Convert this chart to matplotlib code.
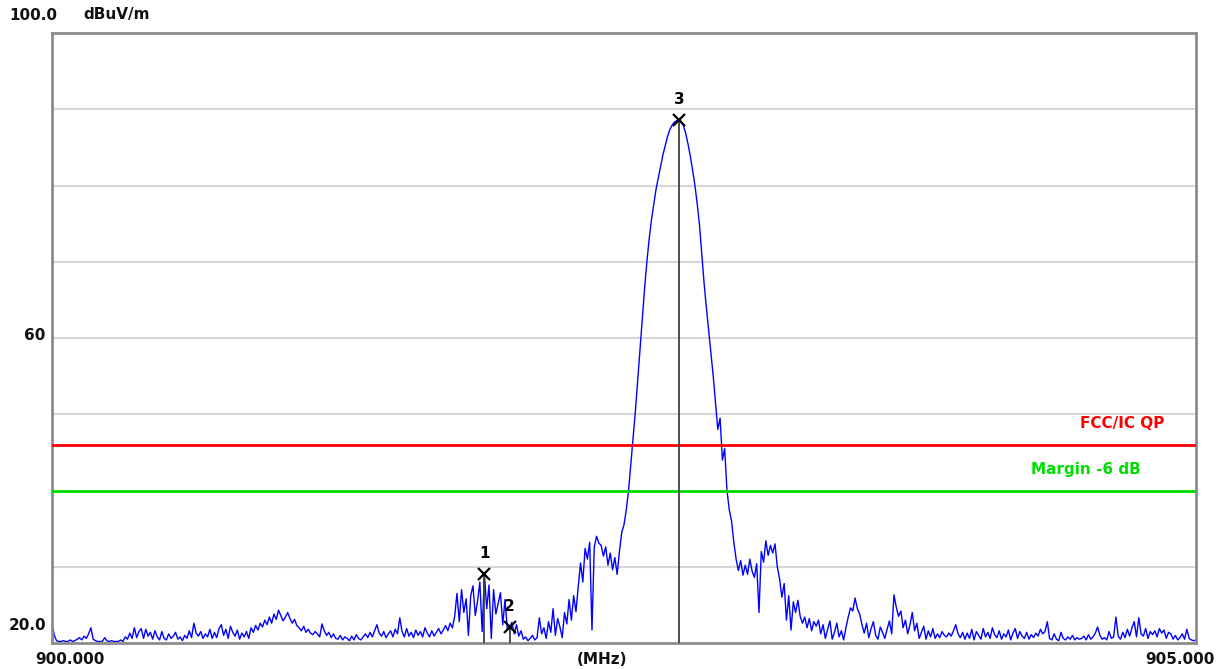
import numpy as np
from matplotlib import pyplot as plt

# sweep settings (MHz)
start_mhz = 900.0
stop_mhz = 905.0
step_mhz = 0.01

# measured field strength, one value per 0.01 MHz, each row = 0.25 MHz
level_dbuv = [
    22.6, 21.0, 20.3, 20.2, 20.2, 20.3, 20.2, 20.2, 20.4, 20.2, 20.3, 20.5, 20.7, 20.4, 20.9, 20.6, 21.2, 22.0, 20.5, 20.3, 20.2, 20.2, 20.2, 20.7, 20.3,
    20.2, 20.3, 20.2, 20.2, 20.2, 20.4, 20.2, 20.8, 20.5, 21.3, 20.6, 22.0, 20.7, 21.5, 21.9, 20.6, 21.8, 20.9, 21.4, 20.5, 21.6, 20.8, 20.4, 21.5, 20.6,
    20.4, 21.2, 20.6, 20.9, 21.4, 20.5, 20.8, 20.3, 21.0, 20.6, 21.6, 20.7, 22.6, 21.3, 20.9, 21.5, 20.6, 21.2, 20.8, 21.8, 20.6, 21.4, 20.7, 21.9, 22.4,
    21.0, 21.8, 20.6, 22.2, 21.4, 20.9, 21.7, 20.5, 21.3, 20.8, 21.5, 20.6, 22.0, 21.4, 22.3, 21.7, 22.6, 22.1, 23.0, 22.4, 23.4, 22.6, 23.8, 23.1, 24.3,
    23.6, 22.9, 23.4, 24.0, 23.2, 22.6, 23.1, 22.3, 22.0, 21.6, 22.2, 21.4, 21.8, 21.3, 21.1, 21.5, 21.2, 20.8, 22.5, 21.6, 21.0, 21.4, 20.7, 21.2, 20.6,
    20.5, 21.0, 20.4, 20.8, 20.6, 20.3, 20.9, 20.4, 21.1, 20.6, 20.4, 20.8, 21.2, 20.7, 21.4, 20.8, 21.6, 22.4, 21.3, 20.9, 21.5, 20.7, 21.2, 21.6, 20.8,
    21.8, 21.2, 23.3, 21.5, 20.8, 21.9, 20.9, 21.4, 20.7, 21.7, 21.0, 21.5, 20.8, 22.0, 21.3, 20.8, 21.6, 20.9, 21.4, 21.9, 21.2, 21.7, 22.3, 21.6, 22.6,
    22.0, 23.5, 26.5, 22.8, 27.0, 24.0, 25.8, 21.0, 26.2, 27.5, 23.6, 25.5, 28.0, 21.5, 29.0, 24.5, 27.6, 20.6, 27.0, 23.8, 25.2, 26.6, 22.4, 25.7, 21.8,
    22.1, 22.7, 21.2, 22.4, 20.9, 21.6, 20.5, 20.8, 20.3, 20.6, 21.0, 20.4, 20.7, 23.3, 21.2, 22.0, 20.6, 22.8, 21.4, 24.5, 21.0, 23.2, 22.1, 20.7, 24.0,
    22.5, 25.7, 23.0, 26.2, 24.1, 27.4, 30.5, 28.0, 32.4, 31.0, 33.2, 21.7, 32.6, 34.0, 33.1, 32.8, 31.4, 32.6, 30.2, 31.8, 29.6, 31.2, 29.0, 32.0, 34.5,
    35.5, 37.5, 40.0, 43.5, 47.0, 50.5, 54.5, 58.5, 62.5, 66.5, 70.0, 73.0, 75.5, 77.5, 79.5, 81.0, 82.5, 84.0, 85.2, 86.4, 87.3, 87.9, 88.3, 88.5, 88.6,
    88.4, 87.8, 86.8, 85.4, 83.8, 82.0, 80.0, 77.6, 74.8, 71.0, 67.2, 64.0, 61.0, 58.0, 55.0, 51.5, 48.0, 49.5, 44.0, 45.5, 40.0, 37.5, 36.0, 33.2, 31.0,
    29.5, 30.8, 28.9, 30.2, 29.0, 31.0, 29.4, 28.6, 30.4, 24.0, 32.0, 30.6, 33.4, 31.5, 32.8, 31.8, 33.0, 30.0, 28.4, 26.0, 27.8, 23.0, 26.2, 21.7, 25.4,
    24.0, 25.6, 23.5, 22.6, 23.4, 22.0, 23.2, 21.6, 22.8, 22.2, 23.0, 21.2, 22.4, 20.6, 21.8, 22.9, 20.5, 21.4, 22.6, 20.8, 21.6, 20.4, 22.0, 23.4, 24.6,
    24.2, 25.9, 24.5, 23.8, 22.4, 21.3, 22.6, 20.7, 21.9, 22.8, 21.0, 20.5, 22.1, 21.4, 20.6, 21.8, 22.9, 21.2, 26.3, 24.7, 23.5, 24.2, 22.0, 23.0, 21.2,
    22.4, 24.0, 21.6, 22.6, 20.6, 21.4, 22.2, 20.5, 21.6, 20.8, 21.9, 20.6, 21.2, 20.7, 21.5, 21.0, 20.8, 21.3, 20.9, 21.6, 22.4, 21.2, 20.7, 21.4, 20.5,
    21.3, 20.6, 21.8, 20.4, 21.5, 21.0, 20.5, 21.9, 20.8, 21.4, 20.6, 22.0, 21.1, 20.7, 21.6, 20.5, 21.2, 20.8, 21.7, 20.4, 21.3, 21.9, 20.6, 21.5, 20.9,
    20.6, 21.4, 20.5, 21.1, 20.7, 21.3, 20.9, 21.8, 21.2, 21.5, 22.8, 20.6, 20.4, 21.2, 20.5, 20.3, 21.4, 20.6, 20.4, 20.8, 20.5, 21.0, 20.4, 20.7, 20.5,
    20.6, 20.9, 20.4, 21.1, 20.5, 20.8, 21.3, 22.1, 21.0, 20.5, 20.7, 20.4, 21.5, 20.6, 20.8, 23.4, 20.9, 20.5, 21.4, 20.7, 21.8, 20.9, 22.0, 22.8, 20.8,
    23.3, 21.2, 20.9, 21.9, 20.6, 21.5, 21.1, 21.6, 20.8, 21.9, 21.3, 21.7, 20.6, 21.4, 21.2, 20.5, 21.0, 20.4, 20.7, 21.2, 20.5, 21.8, 20.6, 20.4, 20.3,
    20.4,
]

limit_qp = 46.0      # FCC/IC QP limit, dBuV/m
margin_db = -6.0

marker_freqs = [901.89, 902.00, 902.74]
marker_names = ['1', '2', '3']

freq = start_mhz + step_mhz * np.arange(len(level_dbuv))
level = np.array(level_dbuv)
marker_idx = [int(round((f - start_mhz) / step_mhz)) for f in marker_freqs]
marker_levels = level[marker_idx]

W, H = 1222, 669
fig = plt.figure(figsize=(W / 100, H / 100), dpi=100)
ax = fig.add_axes([52 / W, 26 / H, 1144 / W, 610 / H])
ax.set_xlim(start_mhz, stop_mhz)
ax.set_ylim(20, 100)
ax.set_xticks([])
ax.set_yticks([])
for s in ax.spines.values():
    s.set_color('#8c8c8c')
    s.set_linewidth(2)

for y in range(30, 100, 10):
    ax.axhline(y, color='#d6d6d6', lw=1.5, zorder=0)

ax.plot(freq, level, color='#0000ff', lw=1, zorder=2)

ax.axhline(limit_qp, color='#ff0000', lw=2, zorder=3)
ax.axhline(limit_qp + margin_db, color='#00dd00', lw=2, zorder=3)
ax.text(904.86, limit_qp + 2.8, 'FCC/IC QP', color='#ff0000', fontsize=11,
        fontweight='bold', ha='right', va='center')
ax.text(904.76, limit_qp + margin_db + 2.8, 'Margin -6 dB', color='#00dd00',
        fontsize=11, fontweight='bold', ha='right', va='center')

# markers with drop lines to the floor
ax.vlines(marker_freqs, 20, marker_levels, color='#404040', lw=1.3, zorder=4)
ax.plot(marker_freqs, marker_levels, 'x', color='black', ms=9, mew=1.6, zorder=5)
for f, l, name in zip(marker_freqs, marker_levels, marker_names):
    ax.annotate(name, (f, l), xytext=(0, 15), textcoords='offset points',
                ha='center', va='center', fontsize=11, fontweight='bold')

# axis labels placed like the analyzer screen
txt = dict(fontsize=11, fontweight='bold', color='#111111', va='center')
fig.text(33 / W, 1 - 15 / H, '100.0', ha='center', **txt)
fig.text(117 / W, 1 - 15 / H, 'dBuV/m', ha='center', **txt)
fig.text(35 / W, 1 - 335 / H, '60', ha='center', **txt)
fig.text(28 / W, 1 - 625 / H, '20.0', ha='center', **txt)
fig.text(70 / W, 1 - 659 / H, '900.000', ha='center', **txt)
fig.text(602 / W, 1 - 659 / H, '(MHz)', ha='center', **txt)
fig.text(1180 / W, 1 - 659 / H, '905.000', ha='center', **txt)

fig.savefig('out.png', dpi=100)
